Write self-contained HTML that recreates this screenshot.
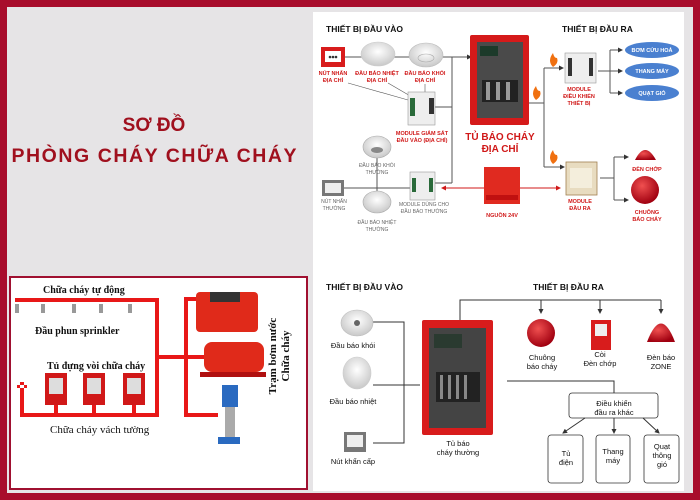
<!DOCTYPE html>
<html><head><meta charset="utf-8"><style>
html,body{margin:0;padding:0;width:700px;height:500px;overflow:hidden;background:#a80d2c}
svg{display:block}
text{font-family:"Liberation Sans",sans-serif}
.s{font-family:"Liberation Serif",serif}
</style></head><body>
<svg width="700" height="500" viewBox="0 0 700 500" xmlns="http://www.w3.org/2000/svg">
<defs>
<marker id="a" markerWidth="5" markerHeight="5" refX="4" refY="2.5" orient="auto"><path d="M0,0 L5,2.5 L0,5z" fill="#333"/></marker>
<marker id="r" markerWidth="5" markerHeight="5" refX="4" refY="2.5" orient="auto"><path d="M0,0 L5,2.5 L0,5z" fill="#d01818"/></marker>
<marker id="rs" markerWidth="5" markerHeight="5" refX="1" refY="2.5" orient="auto"><path d="M5,0 L0,2.5 L5,5z" fill="#d01818"/></marker>
<radialGradient id="det" cx="50%" cy="40%" r="60%"><stop offset="0" stop-color="#fff"/><stop offset="1" stop-color="#c8c8c8"/></radialGradient>
<radialGradient id="bell" cx="40%" cy="35%" r="65%"><stop offset="0" stop-color="#f05050"/><stop offset="1" stop-color="#a00010"/></radialGradient>
</defs>
<rect x="0" y="0" width="700" height="500" fill="#a80d2c"/>
<rect x="7" y="7" width="686" height="486" fill="#e6e4e6"/>
<!-- left title -->
<text x="154" y="131" text-anchor="middle" font-size="19" font-weight="bold" fill="#a0101e">SƠ ĐỒ</text>
<text x="154" y="162" text-anchor="middle" font-size="19.5" font-weight="bold" fill="#a0101e" textLength="285">PHÒNG CHÁY CHỮA CHÁY</text>
<!-- right white panel -->
<rect x="313" y="12" width="371" height="479" fill="#fff"/>
<!-- TOP DIAGRAM -->
<g fill="#111" font-weight="bold" font-size="8.5">
<text x="326" y="32">THIẾT BỊ ĐẦU VÀO</text>
<text x="562" y="32">THIẾT BỊ ĐẦU RA</text>
</g>
<g stroke="#555" stroke-width="1" fill="none">
<line x1="344" y1="57" x2="471" y2="57" marker-end="url(#a)"/>
<line x1="452" y1="57" x2="452" y2="183"/>
<line x1="435" y1="107" x2="452" y2="107"/>
<line x1="324" y1="188" x2="410" y2="188"/>
<line x1="435" y1="183" x2="452" y2="183"/>
<line x1="348" y1="83" x2="408" y2="100" stroke-width=".6"/>
<line x1="388" y1="83" x2="412" y2="97" stroke-width=".6"/>
<line x1="425" y1="84" x2="425" y2="95" stroke-width=".6"/>
<line x1="377" y1="157" x2="377" y2="194"/>
<line x1="529" y1="103" x2="544" y2="103"/>
<line x1="544" y1="68" x2="544" y2="167"/>
<line x1="544" y1="68" x2="563" y2="68" marker-end="url(#a)"/>
<line x1="544" y1="167" x2="564" y2="167" marker-end="url(#a)"/>
<line x1="598" y1="71" x2="610" y2="71"/>
<line x1="610" y1="50" x2="610" y2="93"/>
<line x1="610" y1="50" x2="622" y2="50" marker-end="url(#a)"/>
<line x1="610" y1="71" x2="622" y2="71" marker-end="url(#a)"/>
<line x1="610" y1="93" x2="622" y2="93" marker-end="url(#a)"/>
<line x1="600" y1="178" x2="614" y2="178"/>
<line x1="614" y1="157" x2="614" y2="200"/>
<line x1="614" y1="157" x2="628" y2="157" marker-end="url(#a)"/>
<line x1="614" y1="200" x2="628" y2="200" marker-end="url(#a)"/>
</g>
<line x1="442" y1="188" x2="560" y2="188" stroke="#d01818" stroke-width="1" marker-end="url(#r)" marker-start="url(#rs)"/>
<!-- red button -->
<rect x="321" y="47" width="24" height="20" fill="#d81c1c"/>
<rect x="325" y="51" width="16" height="11" fill="#fff"/>
<circle cx="330" cy="57" r="1.3" fill="#333"/><circle cx="333" cy="57" r="1.3" fill="#333"/><circle cx="336" cy="57" r="1.3" fill="#333"/>
<!-- detectors -->
<ellipse cx="378" cy="54" rx="17" ry="12" fill="url(#det)" stroke="#ccc" stroke-width=".6"/>
<ellipse cx="426" cy="55" rx="17" ry="12" fill="url(#det)" stroke="#bbb" stroke-width=".6"/>
<ellipse cx="426" cy="58" rx="8" ry="4" fill="none" stroke="#aaa" stroke-width=".6"/>
<g fill="#d01818" font-weight="bold" font-size="5.5" text-anchor="middle">
<text x="333" y="75">NÚT NHẤN</text><text x="333" y="82">ĐỊA CHỈ</text>
<text x="377" y="75">ĐẦU BÁO NHIỆT</text><text x="377" y="82">ĐỊA CHỈ</text>
<text x="425" y="75">ĐẦU BÁO KHÓI</text><text x="425" y="82">ĐỊA CHỈ</text>
<text x="422" y="135">MODULE GIÁM SÁT</text><text x="422" y="142">ĐẦU VÀO (ĐỊA CHỈ)</text>
<text x="502" y="217" font-size="5.5">NGUỒN 24V</text>
<text x="579" y="91">MODULE</text><text x="579" y="98">ĐIỀU KHIỂN</text><text x="579" y="105">THIẾT BỊ</text>
<text x="580" y="203">MODULE</text><text x="580" y="210">ĐẦU RA</text>
<text x="647" y="171">ĐÈN CHỚP</text>
<text x="647" y="214">CHUÔNG</text><text x="647" y="221">BÁO CHÁY</text>
<text x="500" y="140" font-size="10">TỦ BÁO CHÁY</text><text x="500" y="152" font-size="10">ĐỊA CHỈ</text>
</g>
<g fill="#666" font-size="5" text-anchor="middle">
<text x="377" y="167">ĐẦU BÁO KHÓI</text><text x="377" y="174">THƯỜNG</text>
<text x="334" y="203">NÚT NHẤN</text><text x="334" y="210">THƯỜNG</text>
<text x="377" y="224">ĐẦU BÁO NHIỆT</text><text x="377" y="231">THƯỜNG</text>
<text x="424" y="206">MODULE DÙNG CHO</text><text x="424" y="213">ĐẦU BÁO THƯỜNG</text>
</g>
<!-- modules -->
<g>
<rect x="408" y="92" width="27" height="33" fill="#eee" stroke="#999" stroke-width=".6"/>
<rect x="410" y="98" width="5" height="18" fill="#2a6a3a"/><rect x="429" y="98" width="5" height="16" fill="#333"/>
<rect x="410" y="172" width="25" height="28" fill="#eee" stroke="#999" stroke-width=".6"/>
<rect x="412" y="178" width="4" height="14" fill="#2a6a3a"/><rect x="429" y="178" width="4" height="14" fill="#2a6a3a"/>
<rect x="565" y="53" width="31" height="30" fill="#eee" stroke="#999" stroke-width=".6"/>
<rect x="568" y="58" width="4" height="18" fill="#333"/><rect x="589" y="58" width="4" height="18" fill="#333"/>
<rect x="566" y="162" width="31" height="33" fill="#e8dcc0" stroke="#a08050" stroke-width=".8"/>
<rect x="570" y="168" width="22" height="20" fill="#f4eedc"/>
</g>
<!-- second-row detectors & button -->
<ellipse cx="377" cy="147" rx="14" ry="11" fill="url(#det)" stroke="#aaa" stroke-width=".6"/>
<ellipse cx="377" cy="150" rx="6" ry="3" fill="#888"/>
<ellipse cx="377" cy="202" rx="14" ry="11" fill="url(#det)" stroke="#aaa" stroke-width=".6"/>
<rect x="322" y="180" width="22" height="16" fill="#777"/><rect x="325" y="183" width="16" height="10" fill="#eee"/>
<!-- cabinet top -->
<rect x="470" y="35" width="59" height="90" rx="2" fill="#d51a1a"/>
<rect x="477" y="42" width="46" height="76" fill="#4a4a4a"/>
<rect x="480" y="46" width="18" height="10" fill="#1c3a2a"/>
<rect x="482" y="80" width="36" height="22" fill="#222"/>
<rect x="486" y="82" width="4" height="18" fill="#999"/><rect x="496" y="82" width="4" height="18" fill="#999"/><rect x="506" y="82" width="4" height="18" fill="#999"/>
<!-- nguồn -->
<rect x="484" y="167" width="36" height="37" fill="#e02a20"/>
<rect x="486" y="195" width="32" height="5" fill="#c01010"/>
<!-- flames -->
<g fill="#f07010"><path d="M536,100 q-6,-6 0,-14 q1,5 4,5 q2,5 -4,9z"/><path d="M553,67 q-6,-6 0,-14 q1,5 4,5 q2,5 -4,9z"/><path d="M553,164 q-6,-6 0,-14 q1,5 4,5 q2,5 -4,9z"/></g>
<!-- ovals -->
<g fill="#4a80d0"><ellipse cx="652" cy="50" rx="27" ry="8"/><ellipse cx="652" cy="71" rx="27" ry="8"/><ellipse cx="652" cy="93" rx="27" ry="8"/></g>
<g fill="#fff" font-size="5.5" font-weight="bold" text-anchor="middle"><text x="652" y="52">BƠM CỨU HOẢ</text><text x="652" y="73">THANG MÁY</text><text x="652" y="95">QUẠT GIÓ</text></g>
<path d="M635,160 Q645,140 656,160 Z" fill="url(#bell)"/>
<circle cx="645" cy="190" r="14" fill="url(#bell)"/>
<!-- BOTTOM RIGHT DIAGRAM -->
<g fill="#111" font-weight="bold" font-size="8.5">
<text x="326" y="290">THIẾT BỊ ĐẦU VÀO</text>
<text x="533" y="290">THIẾT BỊ ĐẦU RA</text>
</g>
<g stroke="#333" stroke-width="1" fill="none">
<polyline points="460,322 460,300 661,300"/>
<line x1="541" y1="300" x2="541" y2="313" marker-end="url(#a)"/>
<line x1="600" y1="300" x2="600" y2="313" marker-end="url(#a)"/>
<line x1="661" y1="300" x2="661" y2="313" marker-end="url(#a)"/>
<polyline points="373,322 404,322 404,443 373,443"/>
<line x1="373" y1="385" x2="420" y2="385"/>
<polyline points="507,381 614,381 614,393"/>
<line x1="585" y1="418" x2="563" y2="433" marker-end="url(#a)"/>
<line x1="614" y1="418" x2="614" y2="433" marker-end="url(#a)"/>
<line x1="643" y1="418" x2="659" y2="433" marker-end="url(#a)"/>
</g>
<ellipse cx="357" cy="323" rx="16" ry="13" fill="url(#det)" stroke="#bbb" stroke-width=".6"/>
<circle cx="357" cy="323" r="3" fill="#666"/>
<ellipse cx="357" cy="373" rx="14" ry="16" fill="url(#det)" stroke="#ccc" stroke-width=".6"/>
<rect x="344" y="432" width="22" height="20" fill="#777"/><rect x="347" y="435" width="16" height="12" fill="#eee"/>
<!-- cabinet bottom -->
<rect x="422" y="320" width="71" height="115" rx="2" fill="#d81c1c"/>
<rect x="429" y="328" width="57" height="100" fill="#444"/>
<rect x="434" y="334" width="28" height="14" fill="#2a3a30"/>
<rect x="436" y="372" width="44" height="30" fill="#222"/>
<g fill="#888"><rect x="440" y="375" width="3" height="24"/><rect x="448" y="375" width="3" height="24"/><rect x="456" y="375" width="3" height="24"/><rect x="464" y="375" width="3" height="24"/></g>
<circle cx="541" cy="333" r="14" fill="url(#bell)"/>
<rect x="591" y="320" width="20" height="30" fill="#d81c1c"/><rect x="595" y="324" width="12" height="12" fill="#eee"/>
<path d="M647,342 Q661,305 675,342 Z" fill="url(#bell)"/>
<g fill="#111" font-size="7.5" text-anchor="middle">
<text x="353" y="348">Đầu báo khói</text>
<text x="353" y="404">Đầu báo nhiệt</text>
<text x="353" y="464">Nút khẩn cấp</text>
<text x="458" y="446">Tủ báo</text><text x="458" y="455">cháy thường</text>
<text x="542" y="360">Chuông</text><text x="542" y="369">báo cháy</text>
<text x="600" y="357">Còi</text><text x="600" y="366">Đèn chớp</text>
<text x="661" y="360">Đèn báo</text><text x="661" y="369">ZONE</text>
<text x="614" y="406">Điều khiển</text><text x="614" y="415">đầu ra khác</text>
<text x="566" y="456">Tủ</text><text x="566" y="465">điện</text>
<text x="613" y="454">Thang</text><text x="613" y="463">máy</text>
<text x="662" y="449">Quạt</text><text x="662" y="458">thông</text><text x="662" y="467">gió</text>
</g>
<g fill="none" stroke="#333" stroke-width=".8">
<rect x="569" y="393" width="89" height="25" rx="3"/>
<rect x="548" y="435" width="35" height="48" rx="3"/>
<rect x="596" y="435" width="34" height="48" rx="3"/>
<rect x="644" y="435" width="35" height="48" rx="3"/>
</g>
<!-- BOTTOM LEFT BOX -->
<rect x="10" y="277" width="297" height="212" fill="#fff" stroke="#a01030" stroke-width="2"/>
<g stroke="#e81818" stroke-width="4" fill="none">
<polyline points="15,300 157,300 157,415 22,415 22,392"/>
<line x1="157" y1="357" x2="205" y2="357"/>
<polyline points="207,299 186,299 186,415 218,415"/>
<line x1="56" y1="405" x2="56" y2="415"/><line x1="94" y1="405" x2="94" y2="415"/><line x1="134" y1="405" x2="134" y2="415"/>
</g>
<g fill="#999">
<rect x="15" y="304" width="4" height="9"/><rect x="41" y="304" width="4" height="9"/><rect x="72" y="304" width="4" height="9"/><rect x="99" y="304" width="4" height="9"/><rect x="128" y="304" width="4" height="9"/>
</g>
<g fill="#d01818"><rect x="45" y="373" width="22" height="32"/><rect x="83" y="373" width="22" height="32"/><rect x="123" y="373" width="22" height="32"/></g>
<g fill="#ddd"><rect x="49" y="378" width="14" height="16"/><rect x="87" y="378" width="14" height="16"/><rect x="127" y="378" width="14" height="16"/></g>
<path d="M17,388 h10 v-3 h-10z M20,382 h4 v10 h-4z" fill="#e81818"/>
<g fill="#111" font-weight="bold" font-size="10" class="s">
<text x="43" y="293" class="s">Chữa cháy tự động</text>
<text x="35" y="334" class="s">Đầu phun sprinkler</text>
<text x="47" y="369" class="s">Tủ đựng vòi chữa cháy</text>
<text x="50" y="433" class="s" font-weight="normal" font-size="11">Chữa cháy vách tường</text>
</g>
<!-- pumps -->
<rect x="196" y="292" width="62" height="40" rx="4" fill="#e02a1a"/>
<rect x="210" y="292" width="30" height="10" fill="#333"/>
<rect x="204" y="342" width="60" height="30" rx="8" fill="#e02a1a"/>
<rect x="200" y="372" width="66" height="5" fill="#b01010"/>
<rect x="222" y="385" width="16" height="22" fill="#2a6ac0"/>
<rect x="225" y="407" width="10" height="30" fill="#aaa"/>
<rect x="218" y="437" width="22" height="7" fill="#2a6ac0"/>
<g font-weight="bold" font-size="11" fill="#111">
<text class="s" transform="translate(276,356) rotate(-90)" text-anchor="middle">Trạm bơm nước</text>
<text class="s" transform="translate(289,356) rotate(-90)" text-anchor="middle">Chữa cháy</text>
</g>
</svg>
</body></html>
